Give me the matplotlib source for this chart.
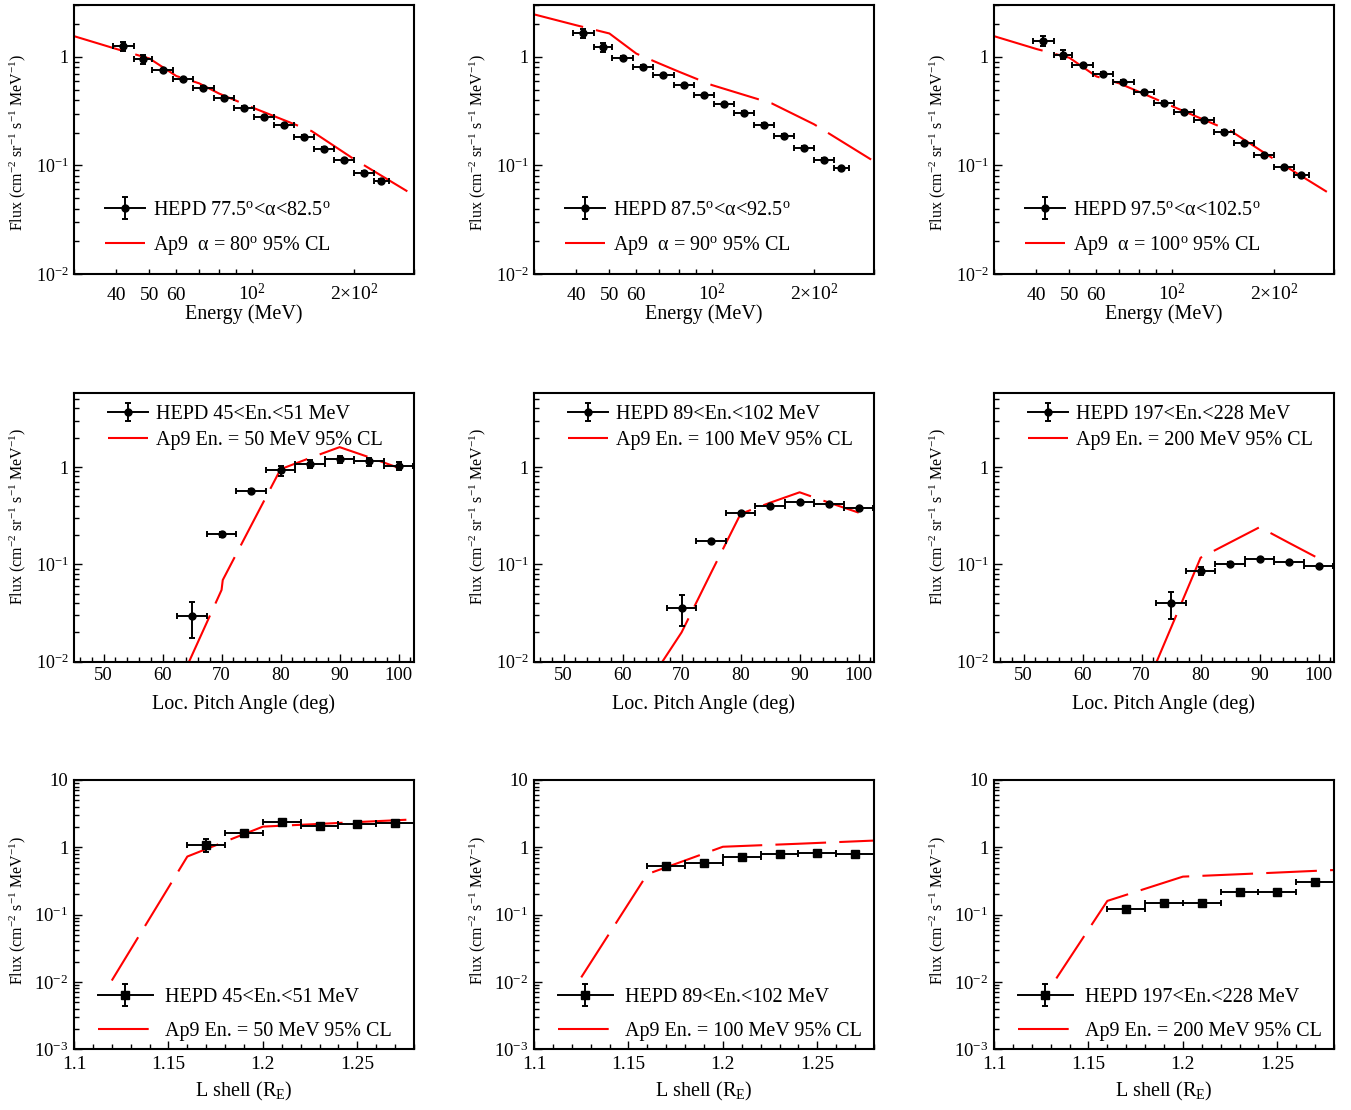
import numpy as np
import matplotlib
matplotlib.use("Agg")
import matplotlib.pyplot as plt
from matplotlib.ticker import LogLocator, NullFormatter, MultipleLocator
from matplotlib.legend_handler import HandlerErrorbar
from matplotlib.container import ErrorbarContainer
from matplotlib.lines import Line2D
from matplotlib.collections import LineCollection

plt.rcParams['font.family'] = ['Liberation Serif', 'DejaVu Serif']
plt.rcParams['mathtext.fontset'] = 'custom'
plt.rcParams['mathtext.rm'] = 'Liberation Serif'
plt.rcParams['mathtext.it'] = 'Liberation Serif:italic'
plt.rcParams['mathtext.bf'] = 'Liberation Serif:bold'
plt.rcParams['lines.scale_dashes'] = False

# ---------------- Row 1: flux vs energy ----------------
energy_edges = [39.0, 45.0, 51.0, 58.6, 67.3, 77.2, 88.5, 101.4, 116.2, 133.1, 152.6, 174.8, 200.3, 229.0, 252.6]
flux_e80 = [1.25, 0.95, 0.75, 0.62, 0.52, 0.42, 0.34, 0.28, 0.234, 0.183, 0.143, 0.111, 0.086, 0.072]
err_e80 = [0.12, 0.10, 0.02, 0.018, 0.015, 0.012, 0.01, 0.008, 0.007, 0.006, 0.005, 0.004, 0.003, 0.003]
flux_e90 = [1.64, 1.22, 0.98, 0.81, 0.68, 0.55, 0.442, 0.365, 0.306, 0.238, 0.187, 0.146, 0.113, 0.094]
err_e90 = [0.16, 0.12, 0.03, 0.024, 0.02, 0.016, 0.013, 0.011, 0.009, 0.007, 0.006, 0.005, 0.004, 0.003]
flux_e100 = [1.40, 1.05, 0.84, 0.70, 0.59, 0.474, 0.378, 0.313, 0.262, 0.205, 0.160, 0.124, 0.0966, 0.081]
err_e100 = [0.14, 0.10, 0.025, 0.02, 0.018, 0.014, 0.011, 0.009, 0.008, 0.006, 0.005, 0.004, 0.003, 0.003]

ap9_energy = [30, 40, 50, 60, 70, 80, 100, 150, 200, 300]
ap9_e80 = [1.55, 1.18, 0.965, 0.665, 0.57, 0.46, 0.343, 0.207, 0.114, 0.053]
ap9_e90 = [2.46, 1.95, 1.64, 1.07, 0.87, 0.73, 0.55, 0.373, 0.239, 0.109]
ap9_e100 = [1.55, 1.18, 0.98, 0.66, 0.57, 0.477, 0.352, 0.205, 0.114, 0.052]

row1_hepd_labels = [r"HEPD 77.5$^{\mathrm{o}}$<α<82.5$^{\mathrm{o}}$",
                    r"HEPD 87.5$^{\mathrm{o}}$<α<92.5$^{\mathrm{o}}$",
                    r"HEPD 97.5$^{\mathrm{o}}$<α<102.5$^{\mathrm{o}}$"]
row1_ap9_labels = [r"Ap9  α = 80$^{\mathrm{o}}$ 95% CL",
                   r"Ap9  α = 90$^{\mathrm{o}}$ 95% CL",
                   r"Ap9  α = 100$^{\mathrm{o}}$ 95% CL"]

# ---------------- Row 2: flux vs pitch angle ----------------
pa_halfwidth = 2.5
pa_50 = [65, 70, 75, 80, 85, 90, 95, 100]
flux_pa50 = [0.0296, 0.203, 0.573, 0.925, 1.08, 1.21, 1.14, 1.03]
err_pa50 = [0.0119, 0.012, 0.02, 0.11, 0.11, 0.10, 0.11, 0.10]
pa_100 = [70, 75, 80, 85, 90, 95, 100]
flux_pa100 = [0.036, 0.173, 0.338, 0.396, 0.435, 0.418, 0.377]
err_pa100 = [0.0125, 0.006, 0.01, 0.012, 0.013, 0.012, 0.011]
pa_200 = [75, 80, 85, 90, 95, 100]
flux_pa200 = [0.040, 0.0855, 0.102, 0.1125, 0.1065, 0.096]
err_pa200 = [0.0125, 0.0075, 0.003, 0.003, 0.003, 0.003]

ap9_pa50 = [60, 65, 70, 70.2, 75, 80, 85, 90, 95, 100]
ap9_flux_pa50 = [0.0025, 0.0117, 0.0546, 0.069, 0.25, 0.95, 1.24, 1.6, 1.26, 0.98]
ap9_pa100 = [60, 65, 70, 75, 80, 85, 90, 95, 100]
ap9_flux_pa100 = [0.0025, 0.0069, 0.020, 0.082, 0.33, 0.43, 0.55, 0.43, 0.34]
ap9_pa200 = [70, 75, 80, 85, 90, 95, 100]
ap9_flux_pa200 = [0.0043, 0.0224, 0.117, 0.168, 0.241, 0.166, 0.115]

row2_hepd_labels = ["HEPD 45<En.<51 MeV", "HEPD 89<En.<102 MeV", "HEPD 197<En.<228 MeV"]
row2_ap9_labels = ["Ap9 En. = 50 MeV 95% CL", "Ap9 En. = 100 MeV 95% CL", "Ap9 En. = 200 MeV 95% CL"]

# ---------------- Row 3: flux vs L shell ----------------
lshell_edges = [1.16, 1.18, 1.20, 1.22, 1.24, 1.26, 1.28]
flux_L50 = [1.08, 1.61, 2.40, 2.10, 2.20, 2.32]
err_L50 = [0.23, 0.08, 0.12, 0.10, 0.10, 0.11]
flux_L100 = [0.528, 0.578, 0.71, 0.787, 0.815, 0.787]
err_L100 = [0.016, 0.017, 0.02, 0.02, 0.02, 0.02]
flux_L200 = [0.12, 0.147, 0.147, 0.22, 0.22, 0.302]
err_L200 = [0.004, 0.004, 0.004, 0.006, 0.006, 0.008]

ap9_L50 = [1.12, 1.16, 1.20, 1.24, 1.28]
ap9_flux_L50 = [0.0105, 0.73, 2.03, 2.30, 2.6]
ap9_L100 = [1.125, 1.16, 1.20, 1.24, 1.28]
ap9_flux_L100 = [0.0117, 0.40, 1.02, 1.13, 1.26]
ap9_L200 = [1.133, 1.16, 1.20, 1.24, 1.28]
ap9_flux_L200 = [0.0113, 0.16, 0.367, 0.41, 0.46]

row3_hepd_labels = row2_hepd_labels
row3_ap9_labels = row2_ap9_labels

# ---------------- layout ----------------
W, H = 1351, 1110
fig = plt.figure(figsize=(W / 100, H / 100), dpi=100)
col_left = [74, 534, 994]
ax_w = 340
rows_tb = [(5, 274), (392.7, 661.7), (780, 1049.3)]

RED = '#ff0000'
DASH = (36.5, 9.5)
ELW, CAP, CAPT = 1.4, 2.4, 1.4
MS_C, MS_S = 5.0, 6.0


def make_ax(r, c):
    top, bot = rows_tb[r]
    ax = fig.add_axes([col_left[c] / W, 1 - bot / H, ax_w / W, (bot - top) / H])
    for s in ax.spines.values():
        s.set_linewidth(1.5)
    ax.tick_params(which='both', direction='in', top=False, right=False, width=1.0)
    ax.tick_params(which='major', length=6)
    ax.tick_params(which='minor', length=3.5)
    return ax


def log_y(ax, lo, hi, ticks, labels, fs):
    ax.set_yscale('log')
    ax.set_ylim(lo, hi)
    ax.set_yticks(ticks, labels)
    ax.yaxis.set_minor_locator(LogLocator(base=10, subs=np.arange(2, 10), numticks=50))
    ax.yaxis.set_minor_formatter(NullFormatter())
    ax.tick_params(axis='y', labelsize=fs, pad=4)


def baseline_xlabels(ax, pad, fs):
    ax.tick_params(axis='x', labelsize=fs, pad=pad)
    for lb in ax.get_xticklabels():
        lb.set_verticalalignment('baseline')


def clip_floor(x, y, floor):
    x = np.asarray(x, float)
    y = np.asarray(y, float)
    idx = np.nonzero(y >= floor)[0]
    i = idx[0]
    if i == 0:
        return x, y
    ly0, ly1 = np.log10(y[i - 1]), np.log10(y[i])
    t = (np.log10(floor) - ly0) / (ly1 - ly0)
    xs = x[i - 1] + t * (x[i] - x[i - 1])
    return np.concatenate([[xs], x[i:]]), np.concatenate([[floor], y[i:]])


def legend_proxy(marker, ms):
    pl = Line2D([], [], color='black', lw=ELW, marker=marker, ms=ms)
    cap = Line2D([], [], color='black', ls='none', marker='_', ms=2 * CAP, mew=CAPT)
    bar = LineCollection([], colors='black', linewidths=ELW)
    return ErrorbarContainer((pl, (cap, cap), (bar,)), has_xerr=False, has_yerr=True)


def add_legend(ax, eb, ln, labels, fs, anchor, hl, htp, ls, errsize):
    ax.legend([eb, ln], labels, loc='upper left', bbox_to_anchor=anchor,
              frameon=False, fontsize=fs, handlelength=hl, handletextpad=htp,
              labelspacing=ls, borderpad=0, borderaxespad=0,
              handler_map={ErrorbarContainer: HandlerErrorbar(xerr_size=errsize)})


ylab_flux = r"Flux (cm$^{-2}$ sr$^{-1}$ s$^{-1}$ MeV$^{-1}$)"
ylab_flux3 = r"Flux (cm$^{-2}$ s$^{-1}$ MeV$^{-1}$)"
YLAB_FS = 11.5
YLAB_X = -46 / ax_w

# ----- Row 1 -----
e_edges = np.array(energy_edges)
e_cent = np.sqrt(e_edges[:-1] * e_edges[1:])
e_lo = e_cent - e_edges[:-1]
e_hi = e_edges[1:] - e_cent
row1_flux = [flux_e80, flux_e90, flux_e100]
row1_err = [err_e80, err_e90, err_e100]
row1_ap9 = [ap9_e80, ap9_e90, ap9_e100]
for c in range(3):
    ax = make_ax(0, c)
    ax.set_xscale('log')
    ax.set_xlim(30, 300)
    ln, = ax.plot(ap9_energy, row1_ap9[c], color=RED, lw=1.5, dashes=DASH, zorder=2)
    ax.errorbar(e_cent, row1_flux[c], xerr=[e_lo, e_hi], yerr=row1_err[c],
                fmt='o', color='black', ms=MS_C, elinewidth=ELW, capsize=CAP,
                capthick=CAPT, zorder=3)
    log_y(ax, 0.01, 3.0, [0.01, 0.1, 1], [r'$10^{-2}$', r'$10^{-1}$', '1'], 13)
    ax.set_xticks([40, 50, 60, 100, 200], ['40', '50', '60', r'$10^{2}$', r'$2{\times}10^{2}$'])
    ax.set_xticks([30, 70, 80, 90, 300], minor=True)
    ax.xaxis.set_minor_formatter(NullFormatter())
    ax.tick_params(axis='x', which='major', length=3.5)
    baseline_xlabels(ax, 19, 14)
    ax.set_xlabel("Energy (MeV)", fontsize=14.5, labelpad=0)
    ax.set_ylabel(ylab_flux, fontsize=YLAB_FS)
    ax.yaxis.set_label_coords(YLAB_X, 0.49)
    add_legend(ax, legend_proxy('o', MS_C), ln, [row1_hepd_labels[c], row1_ap9_labels[c]], 14.5,
               (0.09, 0.27), 2.0, 0.38, 0.66, 0.55)

# ----- Row 2 -----
row2_pa = [pa_50, pa_100, pa_200]
row2_flux = [flux_pa50, flux_pa100, flux_pa200]
row2_err = [err_pa50, err_pa100, err_pa200]
row2_ap9x = [ap9_pa50, ap9_pa100, ap9_pa200]
row2_ap9y = [ap9_flux_pa50, ap9_flux_pa100, ap9_flux_pa200]
for c in range(3):
    ax = make_ax(1, c)
    ax.set_xlim(45, 102.6)
    xs, ys = clip_floor(row2_ap9x[c], row2_ap9y[c], 0.01)
    ln, = ax.plot(xs, ys, color=RED, lw=1.5, dashes=DASH, zorder=2)
    ax.errorbar(row2_pa[c], row2_flux[c], xerr=pa_halfwidth, yerr=row2_err[c],
                fmt='o', color='black', ms=MS_C, elinewidth=ELW, capsize=CAP,
                capthick=CAPT, zorder=3)
    log_y(ax, 0.01, 5.8, [0.01, 0.1, 1], [r'$10^{-2}$', r'$10^{-1}$', '1'], 13)
    ax.set_xticks([50, 60, 70, 80, 90, 100], ['50', '60', '70', '80', '90', '100'])
    ax.xaxis.set_minor_locator(MultipleLocator(2))
    baseline_xlabels(ax, 13.5, 13.5)
    ax.set_xlabel("Loc. Pitch Angle (deg)", fontsize=14.5, labelpad=7)
    ax.set_ylabel(ylab_flux, fontsize=YLAB_FS)
    ax.yaxis.set_label_coords(YLAB_X, 0.54)
    add_legend(ax, legend_proxy('o', MS_C), ln, [row2_hepd_labels[c], row2_ap9_labels[c]], 14.5,
               (0.1, 0.955), 2.0, 0.4, 0.33, 0.45)

# ----- Row 3 -----
L_edges = np.array(lshell_edges)
L_cent = 0.5 * (L_edges[:-1] + L_edges[1:])
L_half = 0.5 * (L_edges[1:] - L_edges[:-1])
row3_flux = [flux_L50, flux_L100, flux_L200]
row3_err = [err_L50, err_L100, err_L200]
row3_ap9x = [ap9_L50, ap9_L100, ap9_L200]
row3_ap9y = [ap9_flux_L50, ap9_flux_L100, ap9_flux_L200]
for c in range(3):
    ax = make_ax(2, c)
    ax.set_xlim(1.1, 1.28)
    ln, = ax.plot(row3_ap9x[c], row3_ap9y[c], color=RED, lw=1.5, dashes=DASH, zorder=2)
    ax.errorbar(L_cent, row3_flux[c], xerr=L_half, yerr=row3_err[c],
                fmt='s', color='black', ms=MS_S, elinewidth=ELW, capsize=CAP,
                capthick=CAPT, zorder=3)
    log_y(ax, 0.001, 10, [0.001, 0.01, 0.1, 1, 10],
          [r'$10^{-3}$', r'$10^{-2}$', r'$10^{-1}$', '1', '10'], 13.5)
    ax.set_xticks([1.1, 1.15, 1.2, 1.25], ['1.1', '1.15', '1.2', '1.25'])
    ax.xaxis.set_minor_locator(MultipleLocator(0.01))
    baseline_xlabels(ax, 14, 14)
    ax.set_xlabel(r"L shell (R$_{\mathrm{E}}$)", fontsize=14.5, labelpad=5)
    ax.set_ylabel(ylab_flux3, fontsize=YLAB_FS)
    ax.yaxis.set_label_coords(YLAB_X, 0.515)
    add_legend(ax, legend_proxy('s', MS_S), ln, [row3_hepd_labels[c], row3_ap9_labels[c]], 14.5,
               (0.071, 0.228), 2.7, 0.6, 0.76, 0.55)

fig.savefig("out.png", dpi=100)
